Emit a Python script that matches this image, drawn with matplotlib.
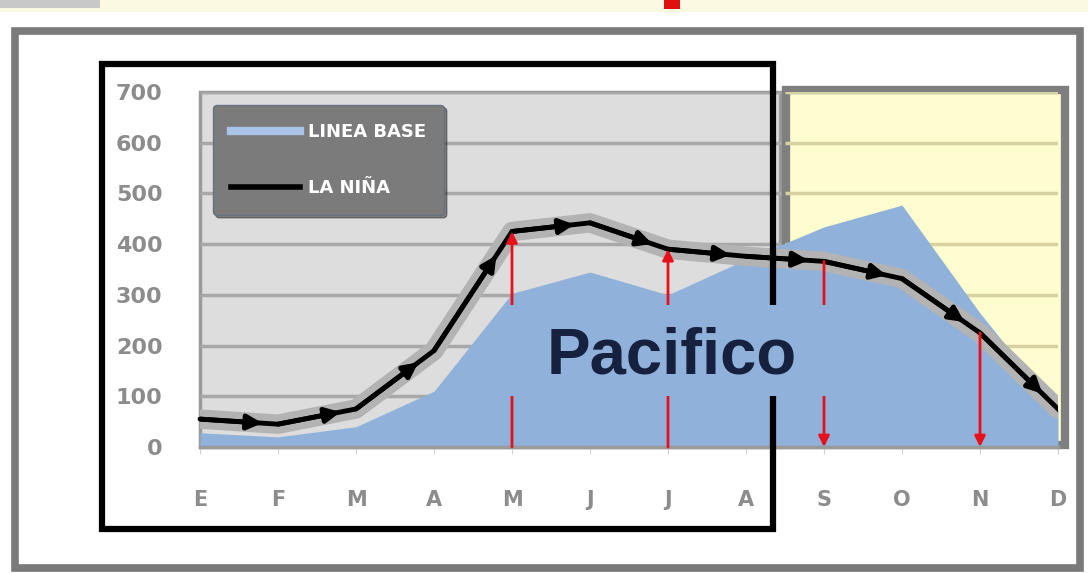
import matplotlib.pyplot as plt
from matplotlib.patches import Rectangle
from matplotlib.lines import Line2D

# months (Spanish initials) and series
months = ["E", "F", "M", "A", "M", "J", "J", "A", "S", "O", "N", "D"]
linea_base = [28, 20, 40, 110, 303, 345, 300, 370, 434, 477, 264, 73]
la_nina = [55, 45, 75, 190, 425, 442, 390, 376, 366, 332, 225, 75]
y_ticks = [0, 100, 200, 300, 400, 500, 600, 700]

# red arrows: (month index, start value, end value)
red_arrows = [(4, 0, 425), (6, 0, 390), (8, 366, 0), (10, 225, 0)]

W, H = 1088, 573


def fx(px):
    return px / W


def fy(py):
    return 1 - py / H


def rect(x0, y0, x1, y1, **kw):
    # rectangle given in picture pixels (top-left origin)
    return Rectangle((fx(x0), fy(y1)), (x1 - x0) / W, (y1 - y0) / H,
                     transform=fig.transFigure, **kw)


fig = plt.figure(figsize=(10.88, 5.73), dpi=100)
fig.patch.set_facecolor("white")

# outer screenshot bits
fig.patches.append(rect(0, 0, 1088, 12, fc="#fbf9e2", ec="none", zorder=-3))
fig.patches.append(rect(0, 0, 100, 8, fc="#c8c8c8", ec="none", zorder=-3))
fig.patches.append(rect(664, 0, 680, 9, fc="#e01010", ec="none", zorder=-3))
fig.patches.append(rect(15, 31, 1080, 568, fc="white", ec="#7a7a7a", lw=5.5, zorder=-3))

# panels behind the chart
fig.patches.append(rect(200, 92, 780, 447, fc="#dddddd", ec="#9a9a9a", lw=2.5, zorder=-2))
fig.patches.append(rect(786, 90, 1065, 445, fc="#fdfdcf", ec="#7f7f7f", lw=6, zorder=-1))

ax = fig.add_axes([fx(200), fy(447), 858 / W, 355 / H])
ax.patch.set_alpha(0)
x = list(range(len(months)))
ax.set_xlim(0, 11)
ax.set_ylim(0, 700)

split = 7.45
ax.hlines(y_ticks[1:], 0, split, color="#a8a8a8", lw=2.5, zorder=1)
ax.hlines(y_ticks[1:], split + 0.05, 11, color="#d8d2a2", lw=2.5, zorder=1)

ax.fill_between(x, 0, linea_base, color="#90b1da", lw=0, zorder=2)
ax.plot(x, la_nina, color="#b3b3b3", lw=14, solid_capstyle="round", zorder=3)
ax.plot(x, la_nina, color="black", lw=3.5, zorder=4)
for i in range(len(x) - 1):
    x_end = x[i] + 0.8 * (x[i + 1] - x[i])
    y_end = la_nina[i] + 0.8 * (la_nina[i + 1] - la_nina[i])
    ax.annotate("", xy=(x_end, y_end), xytext=(x[i], la_nina[i]),
                arrowprops=dict(arrowstyle="-|>", color="black", lw=3.5,
                                mutation_scale=22, shrinkA=0, shrinkB=0),
                zorder=5)

for i, y0, y1 in red_arrows:
    ax.annotate("", xy=(i, y1), xytext=(i, y0),
                arrowprops=dict(arrowstyle="-|>", color="#e8101a", lw=2,
                                mutation_scale=16, shrinkA=0, shrinkB=0),
                zorder=6)

ax.set_xticks(x)
ax.set_xticklabels(months)
ax.set_yticks(y_ticks)
for s in ["top", "right", "left"]:
    ax.spines[s].set_visible(False)
ax.spines["bottom"].set_color("#9a9a9a")
ax.spines["bottom"].set_linewidth(2.5)
ax.tick_params(axis="x", colors="#d0d0d0", length=5, pad=26, labelcolor="#8c8c8c",
               labelsize=15)
ax.tick_params(axis="y", length=0, pad=27, labelcolor="#8c8c8c", labelsize=16)
for lab in ax.get_xticklabels() + ax.get_yticklabels():
    lab.set_fontweight("bold")

# legend
handles = [Line2D([], [], color="#a9c4e8", lw=6), Line2D([], [], color="black", lw=4)]
leg = ax.legend(handles, ["LINEA BASE", "LA NIÑA"], loc="upper left",
                bbox_to_anchor=(fx(213), fy(105)), bbox_transform=fig.transFigure,
                borderaxespad=0, facecolor="#7b7b7b", edgecolor="#66707e",
                framealpha=1, handlelength=3.8, handletextpad=0.45,
                labelspacing=2.1, borderpad=1.0,
                prop=dict(size=13, weight="bold"), fancybox=True, shadow=True)
for t in leg.get_texts():
    t.set_color("white")
leg.set_zorder(7)

# black frame over the left part of the chart
fig.patches.append(rect(102, 64, 773, 529, fc="none", ec="black", lw=4.5, zorder=5))

# label box
fig.patches.append(rect(505, 305, 850, 396, fc="#90b1da", ec="none", zorder=6))
fig.text(fx(672), fy(357), "Pacifico", ha="center", va="center",
         fontsize=47, fontweight="bold", family="Liberation Sans",
         color="#16213f", zorder=7)

plt.savefig("out.png", dpi=100)
